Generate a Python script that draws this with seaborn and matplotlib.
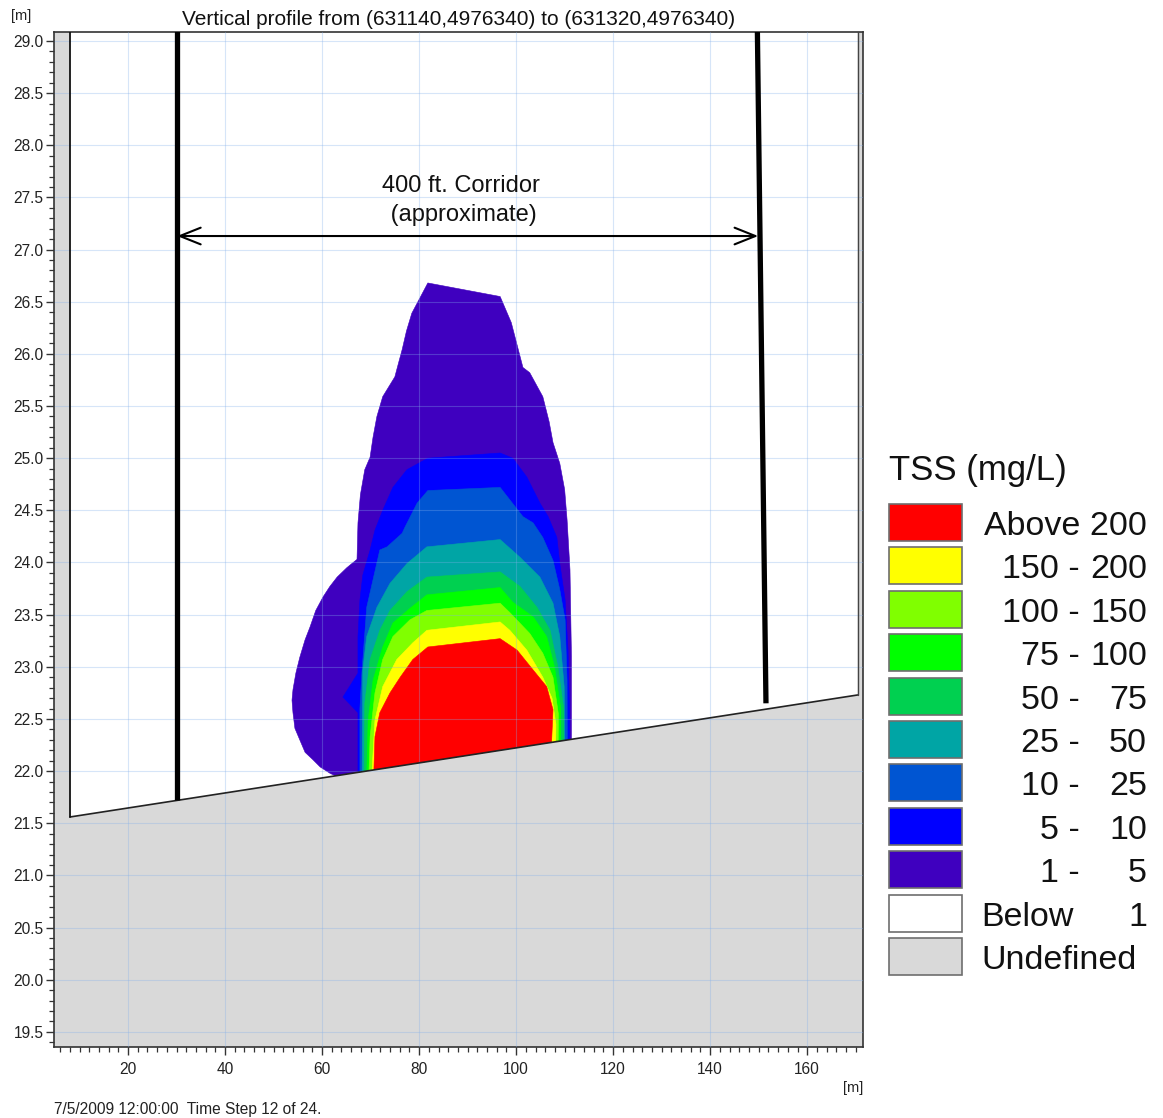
import matplotlib
matplotlib.use("Agg")
import matplotlib.pyplot as plt
from matplotlib.patches import Polygon, Rectangle
from matplotlib.ticker import MultipleLocator, FormatStrFormatter
import seaborn as sns

# ---------------------------------------------------------------- data
# Model section: domain extent, bed profile and water surface [m]
domain_x = [8.0, 170.4]
bed_z = [21.56, 22.73]
surface_z = 29.2

# Dredging corridor limits [m]
corridor_left_x = [30.1, 30.1]
corridor_left_z = [29.2, 21.72]
corridor_right_x = [149.7, 151.5]
corridor_right_z = [29.2, 22.65]
corridor_arrow_x = [30.1, 149.9]
corridor_arrow_z = 27.13
corridor_text_x = 88.6

# TSS class outlines (distance x [m], elevation z [m])
tss_1_5 = [(81.8, 26.68), (96.7, 26.55), (99.0, 26.30), (101.4, 25.87), (102.8, 25.82),
           (105.5, 25.59), (106.8, 25.35), (107.6, 25.15), (109.0, 24.95), (110.0, 24.70),
           (110.5, 24.41), (111.1, 23.93), (111.4, 23.10), (111.4, 21.6), (64.3, 21.6),
           (64.3, 21.92), (61.6, 21.98), (59.6, 22.04), (58.1, 22.11), (56.5, 22.18),
           (55.4, 22.30), (54.4, 22.41), (54.0, 22.56), (53.8, 22.68), (54.0, 22.78),
           (54.6, 22.94), (55.4, 23.09), (56.5, 23.26), (57.5, 23.38), (58.7, 23.54),
           (60.2, 23.67), (61.6, 23.77), (63.1, 23.86), (65.1, 23.95), (67.2, 24.03),
           (67.4, 24.38), (67.9, 24.65), (68.8, 24.89), (69.9, 25.01), (70.5, 25.20),
           (71.3, 25.40), (72.5, 25.59), (75.0, 25.78), (75.8, 25.92), (76.5, 26.04),
           (77.4, 26.22), (78.5, 26.39)]
tss_5_10 = [(81.8, 25.00), (96.7, 25.05), (99.3, 25.00), (102.2, 24.82), (104.9, 24.57),
            (106.6, 24.44), (108.4, 24.24), (109.0, 23.99), (110.1, 23.64), (110.7, 23.16),
            (111.0, 22.6), (111.0, 21.6), (67.4, 21.6), (67.4, 22.56), (64.3, 22.71),
            (67.4, 22.94), (67.4, 23.29), (67.8, 23.64), (68.4, 23.88), (69.9, 24.12),
            (70.9, 24.31), (72.5, 24.50), (74.6, 24.72), (77.5, 24.89)]
tss_10_25 = [(81.8, 24.69), (96.7, 24.72), (101.4, 24.44), (103.5, 24.38), (105.5, 24.24),
             (107.6, 24.02), (109.0, 23.74), (110.1, 23.45), (110.5, 22.87), (110.6, 21.6),
             (67.8, 21.6), (67.8, 22.6), (68.2, 22.94), (69.2, 23.57), (71.9, 24.12),
             (73.4, 24.15), (76.5, 24.28), (77.1, 24.34), (79.6, 24.57)]
tss_25_50 = [(81.6, 24.15), (96.7, 24.22), (100.8, 24.05), (104.9, 23.86), (107.6, 23.61),
             (109.0, 23.29), (109.9, 22.81), (110.2, 21.6), (68.2, 21.6), (68.4, 22.97),
             (69.2, 23.29), (71.3, 23.57), (74.0, 23.80), (77.5, 23.99)]
tss_50_75 = [(81.6, 23.86), (96.7, 23.91), (100.8, 23.77), (104.3, 23.57), (107.0, 23.35),
             (108.6, 23.0), (109.8, 22.6), (109.8, 21.6), (68.6, 21.6), (68.8, 22.65),
             (69.9, 23.07), (71.9, 23.35), (74.0, 23.54), (77.5, 23.72)]
tss_75_100 = [(81.6, 23.69), (96.7, 23.76), (99.3, 23.62), (103.5, 23.48), (106.3, 23.29),
              (107.9, 23.0), (109.2, 22.6), (109.2, 21.6), (69.0, 21.6), (69.5, 22.49),
              (70.5, 22.87), (72.5, 23.19), (74.6, 23.42), (78.1, 23.56)]
tss_100_150 = [(81.6, 23.54), (96.7, 23.61), (98.7, 23.52), (102.8, 23.32), (105.5, 23.13),
               (107.6, 22.90), (108.7, 22.55), (108.6, 21.6), (69.4, 21.6), (69.9, 22.33),
               (70.9, 22.75), (72.5, 23.07), (74.6, 23.29), (78.1, 23.45)]
tss_150_200 = [(81.6, 23.35), (96.7, 23.43), (98.7, 23.35), (102.2, 23.16), (105.5, 22.90),
               (107.4, 22.70), (108.2, 22.45), (108.0, 21.6), (69.8, 21.6), (70.9, 22.49),
               (72.5, 22.81), (75.4, 23.07), (78.7, 23.23)]
tss_above_200 = [(81.8, 23.19), (96.7, 23.27), (100.2, 23.16), (103.5, 22.97), (106.3, 22.81),
                 (107.6, 22.59), (107.3, 22.27), (107.1, 21.6), (70.4, 21.6), (70.9, 22.33),
                 (71.9, 22.56), (74.0, 22.75), (76.1, 22.90), (78.7, 23.07)]

# Legend classes (mg/L), highest first
class_lo = [200, 150, 100, 75, 50, 25, 10, 5, 1]
class_hi = [None, 200, 150, 100, 75, 50, 25, 10, 5]
class_colors = ["#FF0000", "#FFFF00", "#80FF00", "#00FF00", "#00D050",
                "#00A5A5", "#0055D2", "#0000FF", "#3F00BF"]
below_color = "#FFFFFF"
undefined_color = "#D9D9D9"

# Plume outlines drawn from the outermost class inwards
plume_outlines = [tss_1_5, tss_5_10, tss_10_25, tss_25_50, tss_50_75,
                  tss_75_100, tss_100_150, tss_150_200, tss_above_200]
plume_colors = class_colors[::-1]

title_text = "Vertical profile from (631140,4976340) to (631320,4976340)"
footer_text = "7/5/2009 12:00:00  Time Step 12 of 24."

# ---------------------------------------------------------------- figure
sns.set_theme(style="ticks")
plt.rcParams["font.family"] = ["Liberation Sans", "DejaVu Sans"]

W, H = 1163, 1118
fig = plt.figure(figsize=(W / 100, H / 100), dpi=100)
fig.patch.set_facecolor("white")


def fpos(x, y):
    """Pixel position in the figure -> figure fraction."""
    return x / W, 1 - y / H


ax = fig.add_axes([54 / W, 1 - 1047 / H, (863 - 54) / W, (1047 - 32) / H])
ax.set_facecolor(undefined_color)
ax.set_xlim(4.74, 171.5)
ax.set_ylim(19.355, 29.086)

# wet domain
domain = ax.fill([domain_x[0], domain_x[0], domain_x[1], domain_x[1]],
                 [surface_z, bed_z[0], bed_z[1], surface_z],
                 color=below_color, lw=0, zorder=0.8)[0]

# concentration classes
for outline, col in zip(plume_outlines, plume_colors):
    poly = Polygon(outline, closed=True, facecolor=col, edgecolor=col,
                   lw=0.4, zorder=1, antialiased=True, joinstyle="round")
    ax.add_patch(poly)
    poly.set_clip_path(domain)

# domain boundary and bed
sns.lineplot(x=domain_x, y=bed_z, ax=ax, color="#222222", lw=1.2, zorder=3)
ax.plot([domain_x[0], domain_x[0]], [surface_z, bed_z[0]], color="#111111", lw=1.3, zorder=3)
ax.plot([domain_x[1], domain_x[1]], [bed_z[1], surface_z], color="#444444", lw=1.0, zorder=3)

# corridor
ax.plot(corridor_left_x, corridor_left_z, color="black", lw=3.8, zorder=4,
        solid_capstyle="butt")
ax.plot(corridor_right_x, corridor_right_z, color="black", lw=3.8, zorder=4,
        solid_capstyle="butt")
ax.annotate("", xy=(corridor_arrow_x[1], corridor_arrow_z),
            xytext=(corridor_arrow_x[0], corridor_arrow_z),
            arrowprops=dict(arrowstyle="<->,head_length=0.75,head_width=0.3",
                            lw=1.5, color="black", mutation_scale=20,
                            shrinkA=0, shrinkB=0), zorder=4)
ax.text(corridor_text_x, 27.548, "400 ft. Corridor", ha="center", va="baseline",
        fontsize=17, color="#111111", zorder=5)
ax.text(corridor_text_x, 27.274, " (approximate)", ha="center", va="baseline",
        fontsize=17, color="#111111", zorder=5)

# grid, ticks, frame
ax.set_axisbelow(False)
ax.grid(True, which="major", color=(130 / 255, 175 / 255, 235 / 255), alpha=0.32, lw=0.8)
ax.xaxis.set_major_locator(MultipleLocator(20))
ax.xaxis.set_minor_locator(MultipleLocator(2))
ax.yaxis.set_major_locator(MultipleLocator(0.5))
ax.yaxis.set_minor_locator(MultipleLocator(0.1))
ax.yaxis.set_major_formatter(FormatStrFormatter("%.1f"))
ax.tick_params(which="major", direction="out", length=6, width=1.0, color="#333333",
               labelsize=11.2, labelcolor="#222222")
ax.tick_params(which="minor", direction="out", length=3.6, width=0.9, color="#333333")
ax.tick_params(axis="x", which="major", pad=5)
ax.tick_params(axis="y", which="major", pad=1.5)
for side in ["left", "bottom", "top", "right"]:
    ax.spines[side].set_visible(True)
    ax.spines[side].set_color("#333333")
    ax.spines[side].set_linewidth(1.2)
ax.set_xlabel("")
ax.set_ylabel("")

# texts around the axes
fig.text(*fpos(458.5, 25), title_text, ha="center", va="baseline", fontsize=15,
         color="#111111")
fig.text(*fpos(11, 20), "[m]", ha="left", va="baseline", fontsize=10.5, color="#222222")
fig.text(*fpos(863, 1092), "[m]", ha="right", va="baseline", fontsize=10.5, color="#222222")
fig.text(*fpos(54, 1114), footer_text, ha="left", va="baseline", fontsize=11.2,
         color="#222222")

# legend
fig.text(*fpos(889, 480), "TSS (mg/L)", ha="left", va="baseline", fontsize=25,
         color="#111111")
box_x0, box_x1, box_top0, box_h, step = 889, 962, 504, 37, 43.4
legend_cols = class_colors + [below_color, undefined_color]
for i, col in enumerate(legend_cols):
    top = box_top0 + step * i
    x0, y0 = fpos(box_x0, top + box_h)
    fig.patches.append(Rectangle((x0, y0), (box_x1 - box_x0) / W, box_h / H,
                                 transform=fig.transFigure, facecolor=col,
                                 edgecolor="#6E6E6E", lw=1.2))
    base = top + 31
    if i < len(class_lo):
        lo, hi = class_lo[i], class_hi[i]
        if hi is None:
            fig.text(*fpos(1147, base), f"Above {lo}", ha="right", va="baseline",
                     fontsize=24.5, color="#111111")
        else:
            fig.text(*fpos(1080, base), f"{lo} -", ha="right", va="baseline", fontsize=24.5,
                     color="#111111")
            fig.text(*fpos(1147, base), f"{hi}", ha="right", va="baseline", fontsize=24.5,
                     color="#111111")
    elif col == below_color:
        fig.text(*fpos(981, base), "Below", ha="left", va="baseline", fontsize=24.5,
                 color="#111111")
        fig.text(*fpos(1147, base), "1", ha="right", va="baseline", fontsize=24.5,
                 color="#111111")
    else:
        fig.text(*fpos(981, base), "Undefined", ha="left", va="baseline", fontsize=24.5,
                 color="#111111")

fig.savefig("out.png", dpi=100, facecolor="white")
